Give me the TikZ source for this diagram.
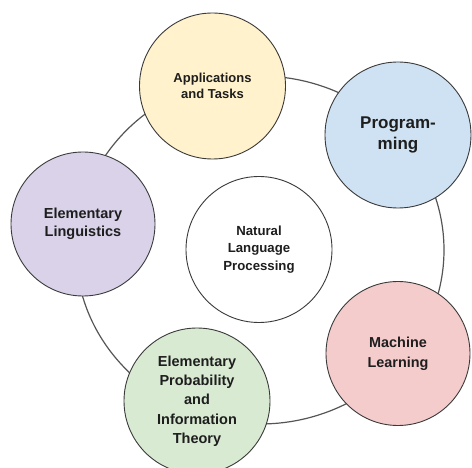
\documentclass[tikz,border=0pt]{standalone}
\usepackage{fontspec}
\setmainfont{Liberation Sans}
\definecolor{appsfill}{HTML}{FFF2CC}
\definecolor{progfill}{HTML}{CFE2F3}
\definecolor{lingfill}{HTML}{D9D2E9}
\definecolor{mlfill}{HTML}{F4CCCC}
\definecolor{probfill}{HTML}{D9EAD3}
\definecolor{edge}{HTML}{3A3A3A}
\definecolor{ring}{HTML}{555555}
\definecolor{txt}{HTML}{1E1E1E}
\begin{document}
\begin{tikzpicture}[x=1pt,y=-1pt,
  topic/.style={circle, draw=edge, line width=0.9pt, minimum size=146pt, inner sep=0pt,
    align=center, text=txt, font=\bfseries},
  ringline/.style={draw=ring, line width=1.2pt}]
\useasboundingbox (0,0) rectangle (472,468);
\fill[white] (0,0) rectangle (472,468);
\draw[ringline] (260,250) ellipse [x radius=184pt, y radius=174pt];
\node[topic, fill=appsfill, font=\bfseries\fontsize{13}{16.7}\selectfont] (apps) at (212.5,86) {Applications\\and Tasks};
\node[topic, fill=progfill, font=\bfseries\fontsize{17}{21}\selectfont] (prog) at (398,135) {Program-\\ming};
\node[topic, fill=lingfill, minimum size=144pt, font=\bfseries\fontsize{14.5}{18.3}\selectfont] (ling) at (83,224) {Elementary\\Linguistics};
\node[topic, fill=white, font=\bfseries\fontsize{13.2}{17.5}\selectfont] (nlp) at (259,249.5) {Natural\\Language\\Processing};
\node[topic, fill=mlfill, minimum size=144pt, font=\bfseries\fontsize{14.4}{20}\selectfont] (ml) at (398,353.5) {Machine\\Learning};
\node[topic, fill=probfill, font=\bfseries\fontsize{14.5}{19.3}\selectfont] (prob) at (197,401) {Elementary\\Probability\\and\\Information\\Theory};
\end{tikzpicture}
\end{document}
